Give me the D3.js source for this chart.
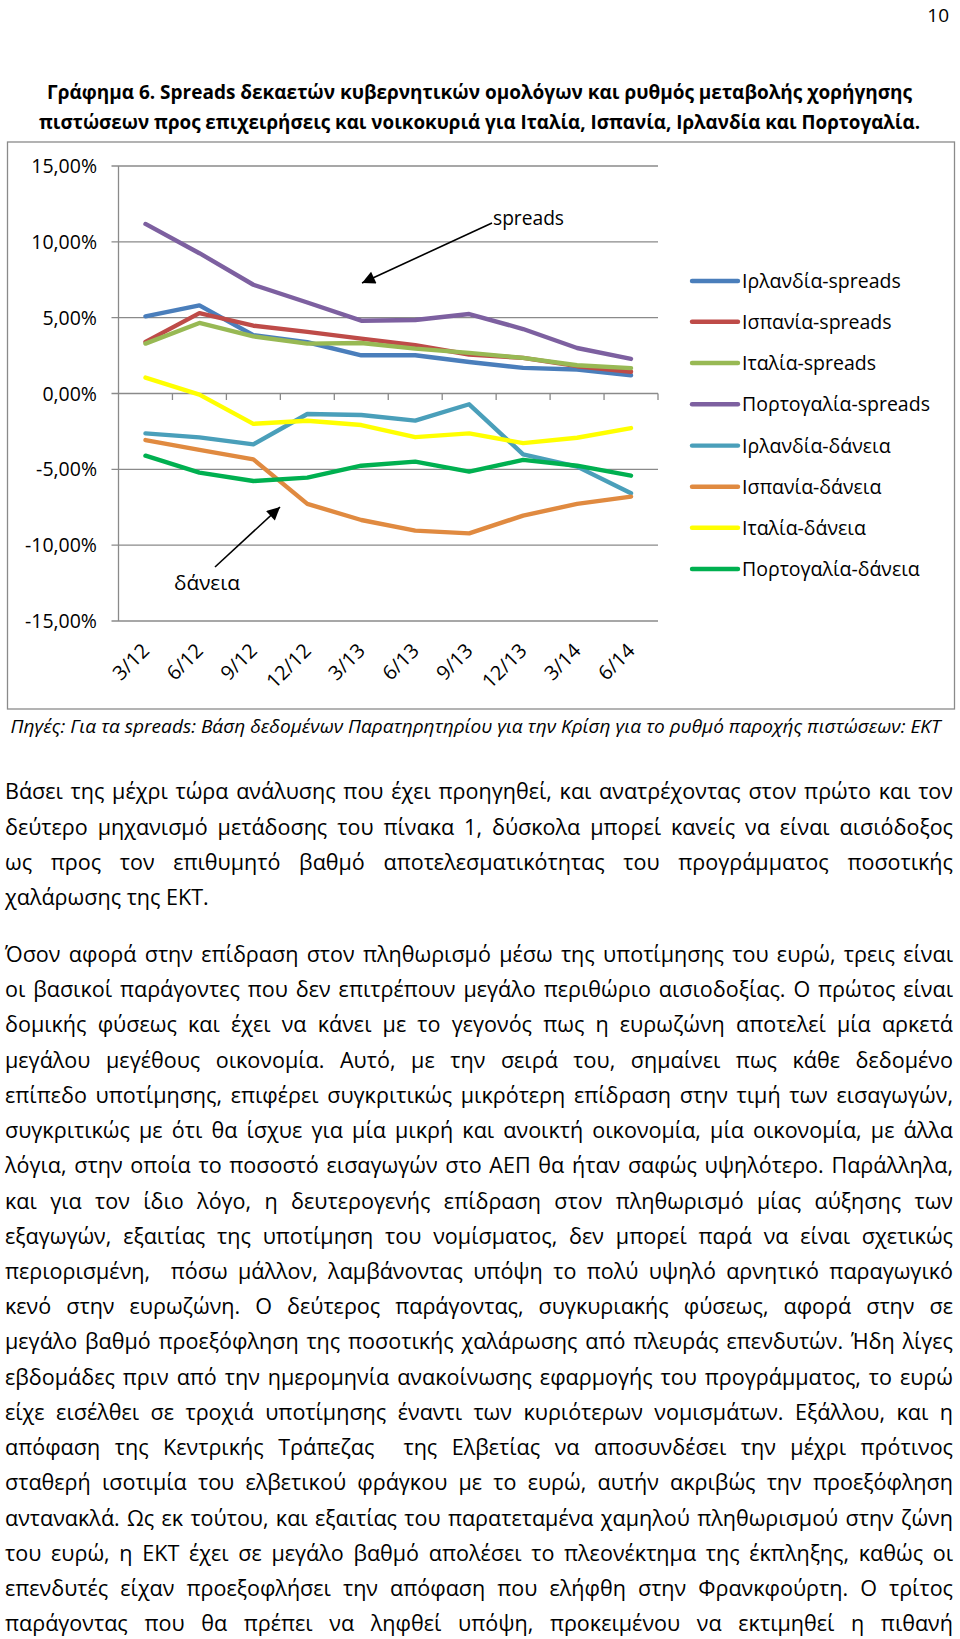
<!DOCTYPE html>
<html><head><meta charset="utf-8">
<script src="https://cdn.jsdelivr.net/npm/d3@7"></script>
<style>
html,body{margin:0;padding:0;background:#fff;}
svg{display:block;}
text{font-family:"Open Sans","Noto Sans","DejaVu Sans",sans-serif;fill:#000;white-space:pre;}
</style></head><body>
<svg id="page" width="960" height="1639"></svg>
<script>
// ---------- DATA ----------
const categories = ["3/12","6/12","9/12","12/12","3/13","6/13","9/13","12/13","3/14","6/14"];
const seriesNames = ["Ιρλανδία-spreads","Ισπανία-spreads","Ιταλία-spreads","Πορτογαλία-spreads",
                     "Ιρλανδία-δάνεια","Ισπανία-δάνεια","Ιταλία-δάνεια","Πορτογαλία-δάνεια"];
const irelandSpreads  = [5.09, 5.81, 3.84, 3.38, 2.52, 2.52, 2.08, 1.69, 1.58, 1.20];
const spainSpreads    = [3.40, 5.30, 4.47, 4.06, 3.62, 3.18, 2.57, 2.35, 1.80, 1.43];
const italySpreads    = [3.29, 4.65, 3.77, 3.29, 3.33, 2.96, 2.68, 2.35, 1.86, 1.67];
const portugalSpreads = [11.18, 9.25, 7.17, 6.00, 4.80, 4.85, 5.24, 4.25, 3.00, 2.28];
const irelandLoans    = [-2.63, -2.89, -3.35, -1.35, -1.42, -1.79, -0.71, -4.01, -4.82, -6.58];
const spainLoans      = [-3.07, -3.72, -4.34, -7.28, -8.34, -9.04, -9.22, -8.05, -7.28, -6.80];
const italyLoans      = [1.05, -0.07, -2.00, -1.80, -2.08, -2.88, -2.63, -3.27, -2.92, -2.28];
const portugalLoans   = [-4.10, -5.22, -5.77, -5.55, -4.76, -4.49, -5.15, -4.38, -4.76, -5.42];
const yTicks = [-15, -10, -5, 0, 5, 10, 15];
const seriesColors = ["#4A7EBB","#BE4B48","#98B954","#7D60A0","#4A9FBA","#E08A40","#FFFF00","#00B050"];

const pageNumber = "10";
const titleLines = [
  "Γράφημα 6. Spreads δεκαετών κυβερνητικών ομολόγων και ρυθμός μεταβολής χορήγησης",
  "πιστώσεων προς επιχειρήσεις και νοικοκυριά για Ιταλία, Ισπανία, Ιρλανδία και Πορτογαλία."
];
const sourceNote = "Πηγές: Για τα spreads: Βάση δεδομένων Παρατηρητηρίου για την Κρίση για το ρυθμό παροχής πιστώσεων: ΕΚΤ";
const annoSpreads = "spreads";
const annoLoans = "δάνεια";
const paragraph1 = [
  "Βάσει της μέχρι τώρα ανάλυσης που έχει προηγηθεί, και ανατρέχοντας στον πρώτο και τον",
  "δεύτερο μηχανισμό μετάδοσης του πίνακα 1, δύσκολα μπορεί κανείς να είναι αισιόδοξος",
  "ως προς τον επιθυμητό βαθμό αποτελεσματικότητας του προγράμματος ποσοτικής",
  "χαλάρωσης της ΕΚΤ."
];
const paragraph2 = [
  "Όσον αφορά στην επίδραση στον πληθωρισμό μέσω της υποτίμησης του ευρώ, τρεις είναι",
  "οι βασικοί παράγοντες που δεν επιτρέπουν μεγάλο περιθώριο αισιοδοξίας. Ο πρώτος είναι",
  "δομικής φύσεως και έχει να κάνει με το γεγονός πως η ευρωζώνη αποτελεί μία αρκετά",
  "μεγάλου μεγέθους οικονομία. Αυτό, με την σειρά του, σημαίνει πως κάθε δεδομένο",
  "επίπεδο υποτίμησης, επιφέρει συγκριτικώς μικρότερη επίδραση στην τιμή των εισαγωγών,",
  "συγκριτικώς με ότι θα ίσχυε για μία μικρή και ανοικτή οικονομία, μία οικονομία, με άλλα",
  "λόγια, στην οποία το ποσοστό εισαγωγών στο ΑΕΠ θα ήταν σαφώς υψηλότερο. Παράλληλα,",
  "και για τον ίδιο λόγο, η δευτερογενής επίδραση στον πληθωρισμό μίας αύξησης των",
  "εξαγωγών, εξαιτίας της υποτίμηση του νομίσματος, δεν μπορεί παρά να είναι σχετικώς",
  "περιορισμένη,  πόσω μάλλον, λαμβάνοντας υπόψη το πολύ υψηλό αρνητικό παραγωγικό",
  "κενό στην ευρωζώνη. Ο δεύτερος παράγοντας, συγκυριακής φύσεως, αφορά στην σε",
  "μεγάλο βαθμό προεξόφληση της ποσοτικής χαλάρωσης από πλευράς επενδυτών. Ήδη λίγες",
  "εβδομάδες πριν από την ημερομηνία ανακοίνωσης εφαρμογής του προγράμματος, το ευρώ",
  "είχε εισέλθει σε τροχιά υποτίμησης έναντι των κυριότερων νομισμάτων. Εξάλλου, και η",
  "απόφαση της Κεντρικής Τράπεζας  της Ελβετίας να αποσυνδέσει την μέχρι πρότινος",
  "σταθερή ισοτιμία του ελβετικού φράγκου με το ευρώ, αυτήν ακριβώς την προεξόφληση",
  "αντανακλά. Ως εκ τούτου, και εξαιτίας του παρατεταμένα χαμηλού πληθωρισμού στην ζώνη",
  "του ευρώ, η ΕΚΤ έχει σε μεγάλο βαθμό απολέσει το πλεονέκτημα της έκπληξης, καθώς οι",
  "επενδυτές είχαν προεξοφλήσει την απόφαση που ελήφθη στην Φρανκφούρτη. Ο τρίτος",
  "παράγοντας που θα πρέπει να ληφθεί υπόψη, προκειμένου να εκτιμηθεί η πιθανή"
];

// ---------- LAYOUT ----------
const svg = d3.select("#page");
const GRID = "#8a8a8a";
const allSeries = [irelandSpreads, spainSpreads, italySpreads, portugalSpreads,
                   irelandLoans, spainLoans, italyLoans, portugalLoans];

const x = d3.scaleBand().domain(categories).range([118.5, 658]);
const y = d3.scaleLinear().domain([-15, 15]).range([621, 166]);

// page number
svg.append("text").attr("x", 949).attr("y", 22).attr("text-anchor", "end")
  .attr("font-size", 19).text(pageNumber);

// title
function fitWidth(sel, w) {
  sel.attr("textLength", w).attr("lengthAdjust", "spacingAndGlyphs");
  return sel;
}
const titlePos = [{y: 99, x0: 47, x1: 912}, {y: 129, x0: 39, x1: 920}];
titleLines.forEach((t, i) => {
  fitWidth(svg.append("text").attr("x", titlePos[i].x0).attr("y", titlePos[i].y)
    .attr("font-size", 19.5).attr("font-weight", "bold").text(t), titlePos[i].x1 - titlePos[i].x0);
});

// chart frame
svg.append("rect").attr("x", 7.5).attr("y", 142).attr("width", 947).attr("height", 567)
  .attr("fill", "none").attr("stroke", GRID).attr("stroke-width", 1.3);

// gridlines
const [xl, xr] = x.range();
svg.append("g").selectAll("line").data(yTicks).join("line")
  .attr("x1", xl - 7).attr("x2", xr).attr("y1", d => y(d)).attr("y2", d => y(d))
  .attr("stroke", GRID).attr("stroke-width", 1.3);

// y axis line
svg.append("line").attr("x1", xl).attr("x2", xl).attr("y1", y(15)).attr("y2", y(-15))
  .attr("stroke", GRID).attr("stroke-width", 1.3);

// y labels
const fmtPct = d => (d < 0 ? "-" : "") + Math.abs(d).toFixed(2).replace(".", ",") + "%";
svg.append("g").selectAll("text").data(yTicks).join("text")
  .attr("x", 97).attr("y", d => y(d)).attr("dy", "0.36em").attr("text-anchor", "end")
  .attr("font-size", 19.5).text(fmtPct);

// x axis ticks at category boundaries (on the 0 line)
const bounds = categories.slice(1).map(c => x(c)).concat([xr]);
svg.append("g").selectAll("line").data(bounds).join("line")
  .attr("x1", d => d).attr("x2", d => d).attr("y1", y(0)).attr("y2", y(0) + 6.5)
  .attr("stroke", GRID).attr("stroke-width", 1.3);

// x labels (rotated, low position)
const bw = x.bandwidth();
svg.append("g").selectAll("text").data(categories).join("text")
  .attr("transform", d => `translate(${x(d) + bw / 2 + 5},652) rotate(-45)`)
  .attr("text-anchor", "end").attr("font-size", 20).text(d => d);

// series lines
const line = d3.line().x((d, i) => x(categories[i]) + bw / 2).y(d => y(d));
svg.append("g").selectAll("path").data(allSeries).join("path")
  .attr("d", d => line(d)).attr("fill", "none")
  .attr("stroke", (d, i) => seriesColors[i]).attr("stroke-width", 4.4)
  .attr("stroke-linejoin", "round").attr("stroke-linecap", "round");

// annotations
const defs = svg.append("defs");
defs.append("marker").attr("id", "ah").attr("viewBox", "0 0 10 10")
  .attr("refX", 10).attr("refY", 5).attr("markerUnits", "userSpaceOnUse")
  .attr("markerWidth", 15).attr("markerHeight", 13).attr("orient", "auto")
  .append("path").attr("d", "M0,0 L10,5 L0,10 Z").attr("fill", "#000");
svg.append("line").attr("x1", 492).attr("y1", 223).attr("x2", 362).attr("y2", 283)
  .attr("stroke", "#000").attr("stroke-width", 1.6).attr("marker-end", "url(#ah)");
svg.append("line").attr("x1", 215).attr("y1", 567).attr("x2", 280).attr("y2", 507)
  .attr("stroke", "#000").attr("stroke-width", 1.6).attr("marker-end", "url(#ah)");
fitWidth(svg.append("text").attr("x", 493).attr("y", 225).attr("font-size", 19.5).text(annoSpreads), 71);
fitWidth(svg.append("text").attr("x", 174).attr("y", 590).attr("font-size", 20).text(annoLoans), 66);

// legend
const legRows = [281, 321.7, 363, 404.3, 445.6, 486.7, 527.7, 569];
const leg = svg.append("g");
const legItems = leg.selectAll("g").data(seriesNames).join("g")
  .attr("transform", (d, i) => `translate(0,${legRows[i]})`);
legItems.append("line").attr("x1", 692).attr("x2", 738).attr("y1", 0).attr("y2", 0)
  .attr("stroke", (d, i) => seriesColors[i]).attr("stroke-width", 4.4).attr("stroke-linecap", "round");
legItems.append("text").attr("x", 742).attr("y", 0).attr("dy", "0.36em")
  .attr("font-size", 19).text(d => d);
{
  const longest = legItems.selectAll("text").nodes()[3];
  const w = longest.getComputedTextLength();
  const fs = 19 * 188 / w;
  legItems.selectAll("text").attr("font-size", fs);
}

// source note
fitWidth(svg.append("text").attr("x", 10.5).attr("y", 733).attr("font-size", 18)
  .attr("font-style", "italic").text(sourceNote), 930);

// body text
const bodyFont = 21.5, left = 5, right = 953, fullW = right - left;
const probe = svg.append("text").attr("font-size", bodyFont).text("χαλάρωσης της ΕΚΤ.");
const k = 204 / probe.node().getComputedTextLength();
probe.remove();
function bodyLine(t, baseline, justify) {
  const g = svg.append("g").attr("transform", `translate(${left},${baseline}) scale(${k},1)`);
  const tx = g.append("text").attr("x", 0).attr("y", 0).attr("font-size", bodyFont).text(t);
  if (justify) {
    const w = tx.node().getComputedTextLength();
    const spaces = (t.match(/ /g) || []).length;
    const extra = fullW / k - w;
    if (extra >= 0 && spaces > 0) tx.style("word-spacing", (extra / spaces) + "px");
    else tx.attr("textLength", fullW / k).attr("lengthAdjust", "spacingAndGlyphs");
  }
}
const p1Base = [799, 834.5, 870, 905];
paragraph1.forEach((t, i) => bodyLine(t, p1Base[i], i < paragraph1.length - 1));
const p2Start = 962, lineGap = 35.22;
paragraph2.forEach((t, i) => bodyLine(t, p2Start + i * lineGap, true));
</script>
</body></html>
